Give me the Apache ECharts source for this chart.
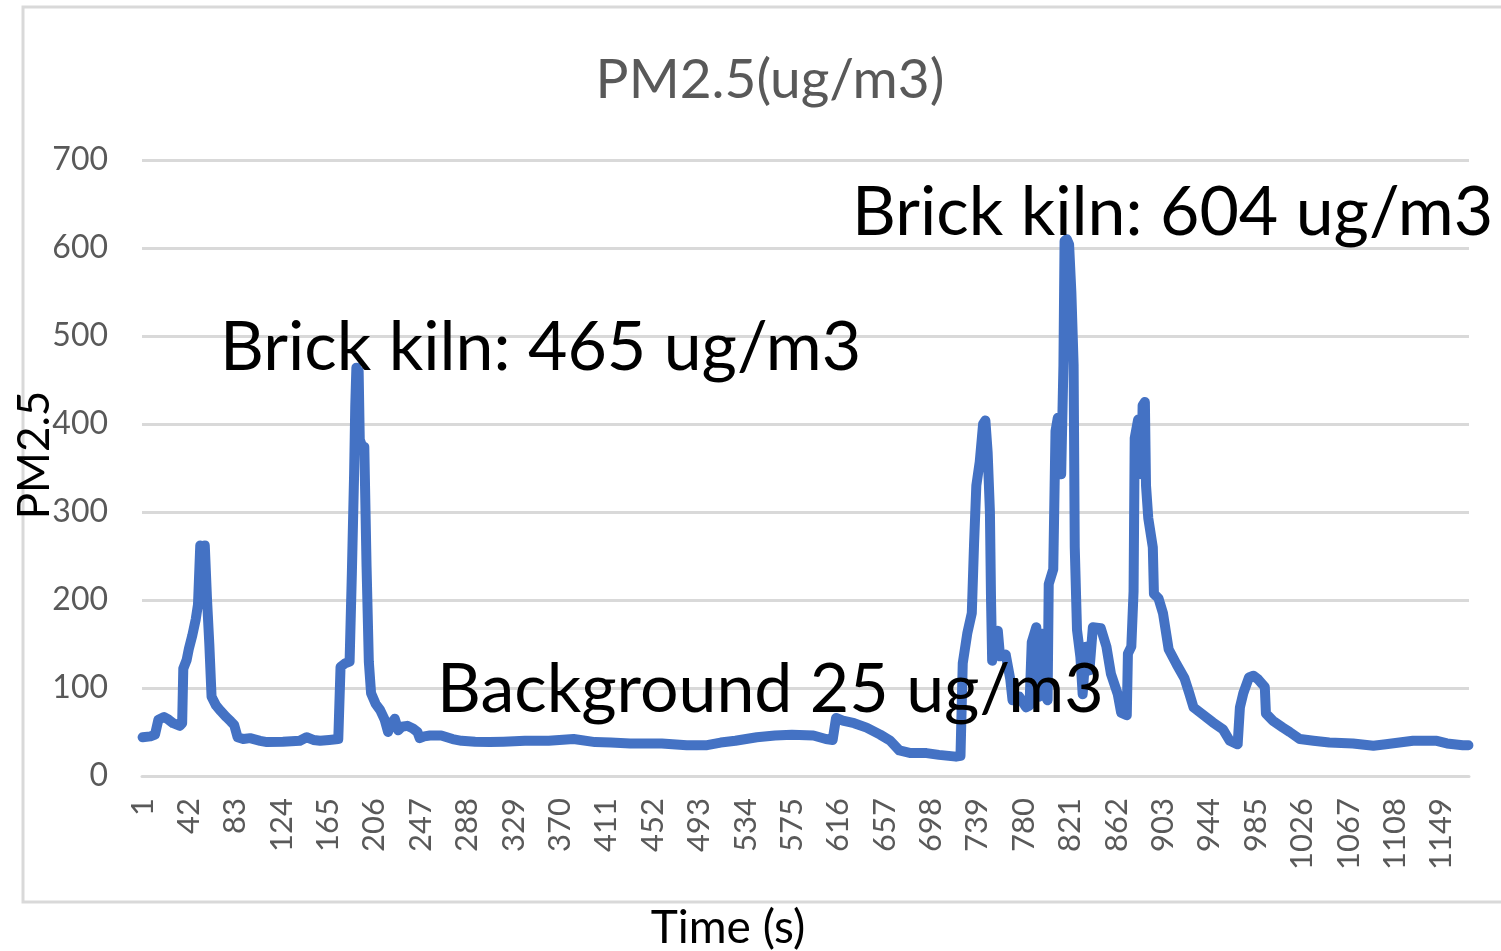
<!DOCTYPE html>
<html>
<head>
<meta charset="utf-8">
<script src="https://cdn.jsdelivr.net/npm/echarts@6/dist/echarts.min.js"></script>
<style>
html,body{margin:0;padding:0;background:#fff;}
#chart{width:1501px;height:951px;}
</style>
</head>
<body>
<div id="chart"></div>
<script>
// ---- data ----
const titleText = 'PM2.5(ug/m3)';
const yAxisName = 'PM2.5';
const xAxisName = 'Time (s)';
const annotations = ['Brick kiln: 604 ug/m3', 'Brick kiln: 465 ug/m3', 'Background 25 ug/m3'];
const sampleCount = 1173;
const categories = Array.from({length: sampleCount}, (_, i) => String(i + 1));
const yTicks = [0, 100, 200, 300, 400, 500, 600, 700];

// time (s) of each read point
const timeSec = [1,8,12,15,20,24,28,34,36,37,40,42,45,48,50,52,54,55,56,58,60,62,66,70,75,79,82,85,90,96,
105,111,125,140,146,152,158,166,174,176,180,184,186,188,189,190,191,192,193,195,197,199,201,203,207,211,215,218,221,224,
227,230,235,240,244,246,250,255,265,275,283,295,308,320,339,360,382,401,415,432,460,482,500,512,525,544,560,575,594,605,
611,614,620,630,641,653,662,670,680,694,705,720,724,726,730,734,736,738,741,744,746,748,750,751,752,757,759,764,768,770,
776,782,785,787,791,793,795,798,801,802,806,808,810,813,815,816,818,820,822,824,825,827,830,832,835,838,841,848,853,857,
863,866,871,872,875,877,878,881,884,885,887,888,890,894,895,899,903,908,915,922,926,930,936,947,956,962,969,971,974,979,
983,987,993,994,1000,1009,1015,1024,1036,1050,1071,1089,1100,1124,1145,1154,1168,1173];
// PM2.5 (ug/m3) at those times
const pm25 = [44,45,47,64,67,64,60,57,60,122,132,145,160,178,195,262,258,215,262,200,150,90,80,74,67,62,58,44,42,43,
40,38.5,39,40,44,41,40,41,42,124,128,130,230,344,420,464,440,460,382,375,374,238,130,94,82,75,64,50,60,65,
52,56,57,54,50,43,45,46,46,42,40,39,38.5,39,40,40,42,38.5,38,37,37,35,35,38,40,44,46,47,46,42,
41,66,63,60,55,47,40,29,26,26,24,22,23,128,162,185,264,330,357,400,404,368,301,200,131,165,136,138,110,86,
90,78,80,152,169,90,162,94,86,218,235,392,407,343,467,608,610,604,550,467,260,166,135,93,147,120,169,168,147,116,
93,72,69,139,147,210,384,405,343,421,425,330,293,260,207,202,185,144,127,111,95,78,72,61,53,40,36,78,94,112,
114,110,101,71,63,55,50,42,40,38,37,34.4,36,40,40,37,35,35];

const seriesData = timeSec.map((t, i) => [String(t), pm25[i]]);

const chart = echarts.init(document.getElementById('chart'), null, {renderer: 'canvas'});
const gray = '#595959';
const gridColor = '#d9d9d9';
const bigFont = 'Lato, "Open Sans", sans-serif';

chart.setOption({
  animation: false,
  backgroundColor: '#ffffff',
  title: {
    text: titleText,
    left: 765, top: 48, textAlign: 'center',
    textStyle: {color: gray, fontSize: 55, fontWeight: 'normal', fontFamily: bigFont}
  },
  grid: {left: 142, right: 32, top: 160, bottom: 175, containLabel: false},
  xAxis: {
    type: 'category',
    data: categories,
    boundaryGap: true,
    axisLine: {show: true, lineStyle: {color: gridColor, width: 3}},
    axisTick: {show: false},
    axisLabel: {interval: 40, rotate: 90, color: gray, fontSize: 31, fontFamily: bigFont, margin: 22},
    splitLine: {show: false}
  },
  yAxis: {
    type: 'value',
    min: yTicks[0], max: yTicks[yTicks.length - 1], interval: 100,
    axisLine: {show: false},
    axisTick: {show: false},
    axisLabel: {color: gray, fontSize: 32, fontFamily: bigFont, margin: 34},
    splitLine: {lineStyle: {color: gridColor, width: 3}}
  },
  series: [{
    type: 'line',
    data: seriesData,
    showSymbol: false,
    symbol: 'none',
    lineStyle: {color: '#4472C4', width: 10, cap: 'round', join: 'round'},
    z: 3
  }],
  graphic: [
    {type: 'rect', z: -1, shape: {x: 23, y: 7, width: 1500, height: 895},
     style: {fill: 'none', stroke: gridColor, lineWidth: 3}},
    {type: 'text', x: 35, y: 455, rotation: Math.PI / 2, z: 10,
     style: {text: yAxisName, fill: '#000', fontSize: 44, fontFamily: bigFont, textAlign: 'center', textVerticalAlign: 'middle'}},
    {type: 'text', x: 728, y: 928, z: 10,
     style: {text: xAxisName, fill: '#000', fontSize: 46, fontFamily: bigFont, textAlign: 'center', textVerticalAlign: 'middle'}},
    {type: 'text', x: 852, y: 213, z: 10,
     style: {text: annotations[0], fill: '#000', fontSize: 68, fontFamily: bigFont, textAlign: 'left', textVerticalAlign: 'middle'}},
    {type: 'text', x: 220, y: 348, z: 10,
     style: {text: annotations[1], fill: '#000', fontSize: 68, fontFamily: bigFont, textAlign: 'left', textVerticalAlign: 'middle'}},
    {type: 'text', x: 437, y: 690, z: 10,
     style: {text: annotations[2], fill: '#000', fontSize: 68, fontFamily: bigFont, textAlign: 'left', textVerticalAlign: 'middle'}}
  ]
});
</script>
</body>
</html>
